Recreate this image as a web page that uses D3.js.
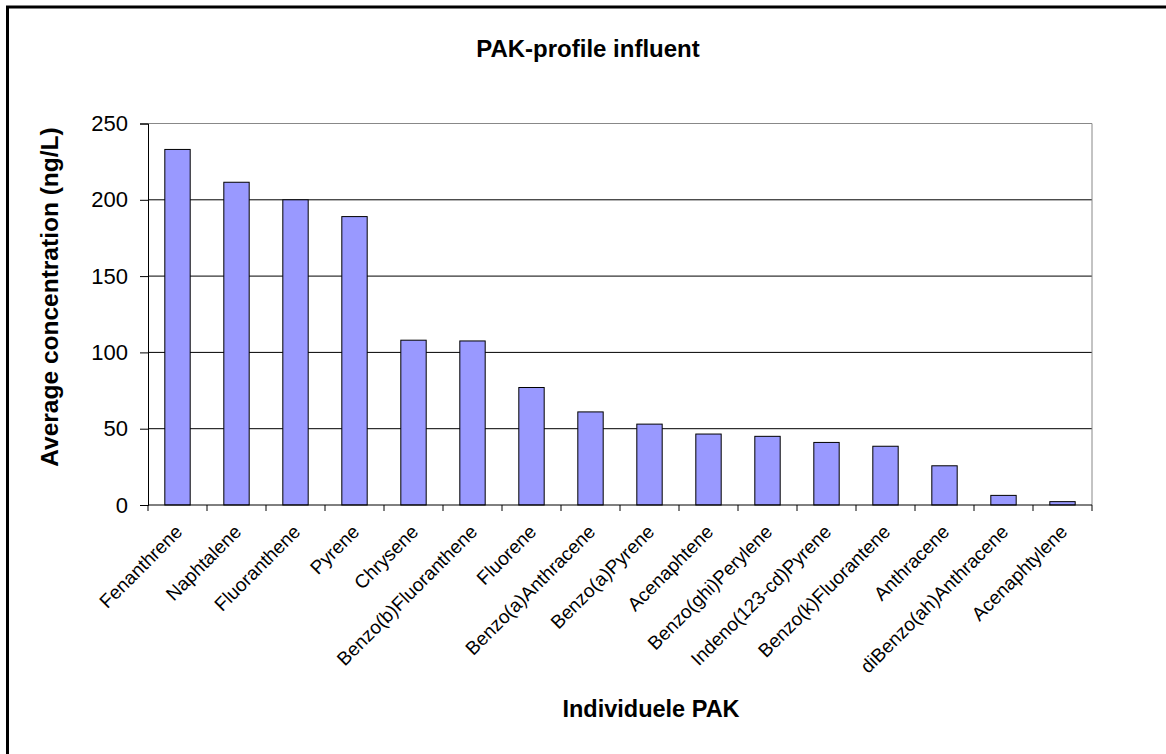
<!DOCTYPE html>
<html>
<head>
<meta charset="utf-8">
<script src="https://cdn.jsdelivr.net/npm/d3@7"></script>
<style>
  body { margin: 0; background: #fff; }
  svg { display: block; font-family: Arial, "Liberation Sans", sans-serif; }
</style>
</head>
<body>
<svg id="chart"></svg>
<script>
// PAK categories, sorted as in the source chart
const compounds = [
  "Fenanthrene", "Naphtalene", "Fluoranthene", "Pyrene", "Chrysene",
  "Benzo(b)Fluoranthene", "Fluorene", "Benzo(a)Anthracene", "Benzo(a)Pyrene",
  "Acenaphtene", "Benzo(ghi)Perylene", "Indeno(123-cd)Pyrene",
  "Benzo(k)Fluorantene", "Anthracene", "diBenzo(ah)Anthracene", "Acenaphtylene"
];
// average concentration, ng/L
const concentration = [
  233, 211.5, 200, 189, 108, 107.5, 77, 61, 53, 46.5, 45, 41, 38.5, 25.7, 6.3, 2.2
];
const yTicks = [0, 50, 100, 150, 200, 250];

const dims = {
  width: 1166,
  height: 754,
  plot: { left: 148, right: 1092, top: 123.5, bottom: 505 },
};

const svg = d3.select("#chart")
  .attr("width", dims.width)
  .attr("height", dims.height)
  .attr("viewBox", [0, 0, dims.width, dims.height]);

// outer frame (only top/left edges visible in the original)
svg.append("rect")
  .attr("x", 7.5).attr("y", 7)
  .attr("width", dims.width + 20).attr("height", dims.height + 20)
  .attr("fill", "#fff")
  .attr("stroke", "#000")
  .attr("stroke-width", 3);

const x = d3.scaleBand()
  .domain(compounds)
  .range([dims.plot.left, dims.plot.right])
  .paddingInner(0.57)
  .paddingOuter(0.285);

const y = d3.scaleLinear()
  .domain([0, 250])
  .range([dims.plot.bottom, dims.plot.top]);

// gridlines
svg.append("g")
  .selectAll("line")
  .data(yTicks.filter((d) => d > 0 && d < 250))
  .join("line")
  .attr("x1", dims.plot.left).attr("x2", dims.plot.right)
  .attr("y1", (d) => y(d)).attr("y2", (d) => y(d))
  .attr("stroke", "#000")
  .attr("stroke-width", 1);

// plot area border (top + right, grey)
svg.append("path")
  .attr("d", `M${dims.plot.left},${y(250)}H${dims.plot.right}V${dims.plot.bottom}`)
  .attr("fill", "none")
  .attr("stroke", "#888")
  .attr("stroke-width", 1);

// bars
svg.append("g")
  .selectAll("rect")
  .data(compounds.map((c, i) => ({ c, v: concentration[i] })))
  .join("rect")
  .attr("x", (d) => x(d.c))
  .attr("y", (d) => y(d.v))
  .attr("width", x.bandwidth())
  .attr("height", (d) => y(0) - y(d.v))
  .attr("fill", "#9999ff")
  .attr("stroke", "#000")
  .attr("stroke-width", 1);

// y axis
svg.append("g")
  .attr("transform", `translate(${dims.plot.left},0)`)
  .call(d3.axisLeft(y).tickValues(yTicks).tickSize(8).tickPadding(12))
  .call((g) => {
    g.select("path.domain").attr("stroke", "#000");
    g.selectAll(".tick line").attr("stroke", "#000");
    g.selectAll(".tick text")
      .attr("font-size", 22)
      .attr("font-family", "Arial, 'Liberation Sans', sans-serif")
      .attr("fill", "#000");
  });

// x axis: ticks sit between categories (Excel style)
const step = x.step();
const boundaries = d3.range(compounds.length + 1).map((i) => dims.plot.left + i * step);
const xAxis = svg.append("g");
xAxis.append("line")
  .attr("x1", dims.plot.left).attr("x2", dims.plot.right)
  .attr("y1", dims.plot.bottom).attr("y2", dims.plot.bottom)
  .attr("stroke", "#000");
xAxis.selectAll("line.tick")
  .data(boundaries)
  .join("line")
  .attr("class", "tick")
  .attr("x1", (d) => d).attr("x2", (d) => d)
  .attr("y1", dims.plot.bottom).attr("y2", dims.plot.bottom + 6)
  .attr("stroke", "#000");
xAxis.selectAll("text")
  .data(compounds)
  .join("text")
  .attr("transform", (d) =>
    `translate(${x(d) + x.bandwidth() / 2 + 6},${dims.plot.bottom + 28}) rotate(-45)`)
  .attr("text-anchor", "end")
  .attr("font-size", 19)
  .attr("fill", "#000")
  .text((d) => d);

// titles
svg.append("text")
  .attr("x", 588).attr("y", 57)
  .attr("text-anchor", "middle")
  .attr("font-size", 24)
  .attr("font-weight", "bold")
  .text("PAK-profile influent");

svg.append("text")
  .attr("transform", "translate(58,297) rotate(-90)")
  .attr("text-anchor", "middle")
  .attr("font-size", 24.5)
  .attr("font-weight", "bold")
  .text("Average concentration (ng/L)");

svg.append("text")
  .attr("x", 651).attr("y", 717)
  .attr("text-anchor", "middle")
  .attr("font-size", 23.5)
  .attr("font-weight", "bold")
  .text("Individuele PAK");
</script>
</body>
</html>
